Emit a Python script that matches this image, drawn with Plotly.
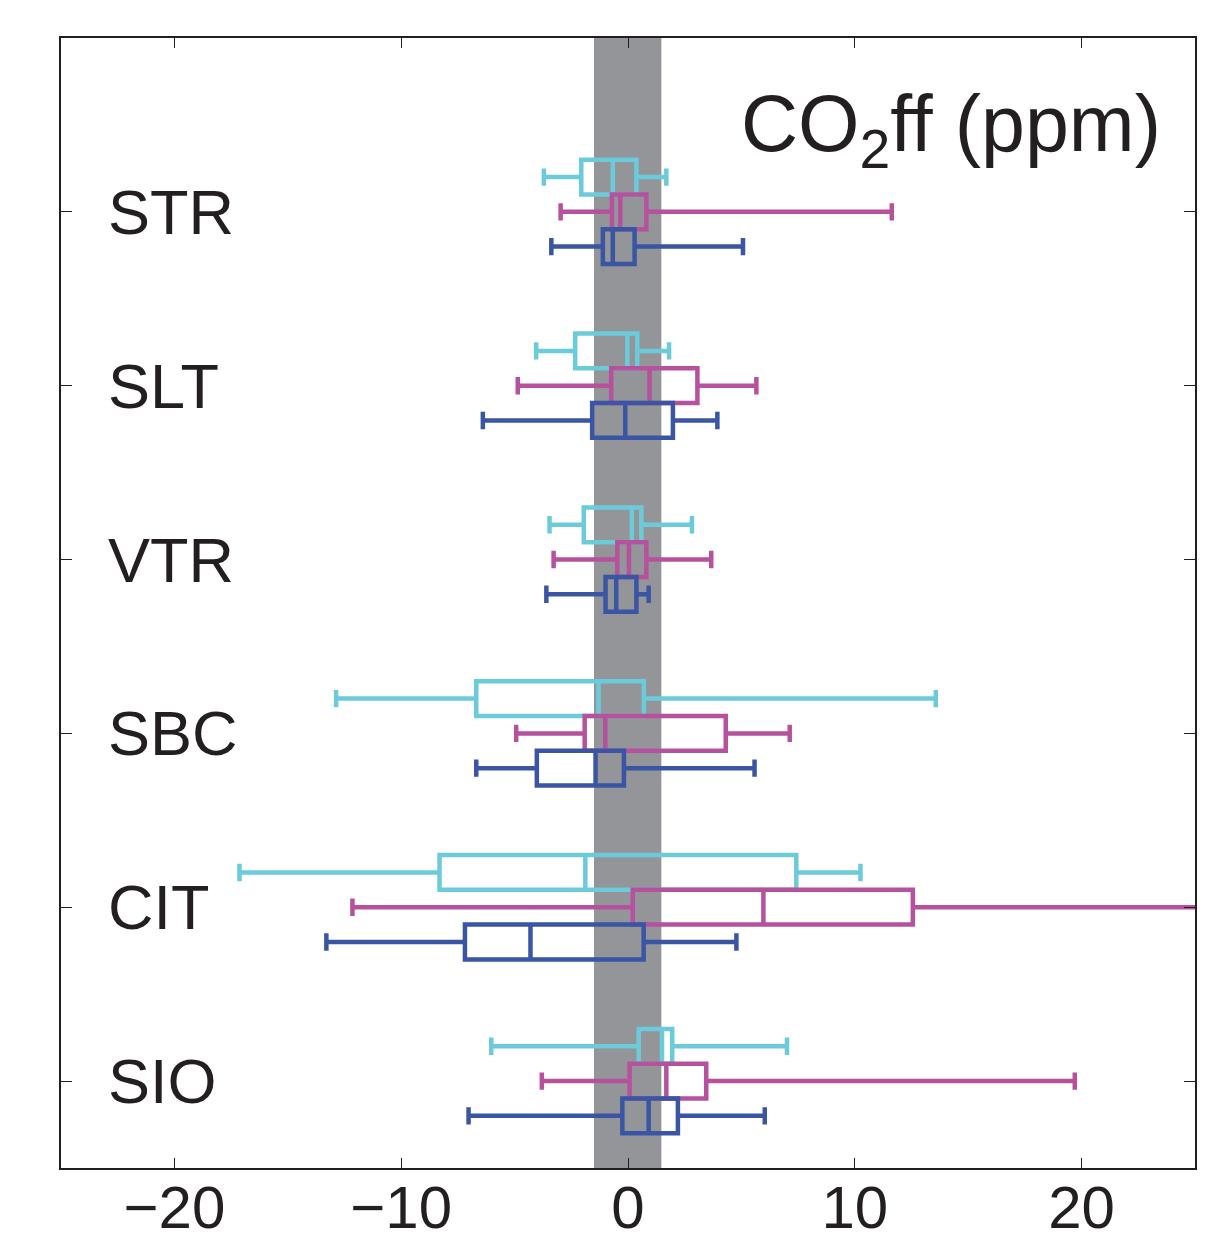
import plotly.graph_objects as go

# ---- data ----
categories = ["STR", "SLT", "VTR", "SBC", "CIT", "SIO"]
cat_pos = [6, 5, 4, 3, 2, 1]

# cyan series (upper box in each group)
cyan_lf = [-3.71, -4.05, -3.46, -12.87, -17.13, -6.03]
cyan_q1 = [-2.06, -2.33, -1.95, -6.69, -8.31, 0.47]
cyan_med = [-0.67, -0.03, 0.17, -1.30, -1.88, 1.50]
cyan_q3 = [0.37, 0.41, 0.59, 0.70, 7.42, 1.95]
cyan_uf = [1.69, 1.81, 2.82, 13.57, 10.25, 7.01]

# magenta series (middle box)
mag_lf = [-2.97, -4.86, -3.28, -4.93, -12.15, -3.80]
mag_q1 = [-0.71, -0.74, -0.47, -1.91, 0.21, 0.07]
mag_med = [-0.34, 0.95, 0.04, -1.00, 5.97, 1.69]
mag_q3 = [0.81, 3.06, 0.81, 4.31, 12.56, 3.45]
mag_uf = [11.63, 5.66, 3.67, 7.13, 27.0, 19.70]

# blue series (lower box)
blue_lf = [-3.38, -6.40, -3.60, -6.69, -13.30, -7.03]
blue_q1 = [-1.11, -1.58, -0.99, -4.02, -7.19, -0.25]
blue_med = [-0.67, -0.12, -0.52, -1.43, -4.30, 0.91]
blue_q3 = [0.29, 1.98, 0.37, -0.18, 0.69, 2.20]
blue_uf = [5.07, 3.94, 0.91, 5.58, 4.78, 6.03]

band_lo, band_hi = -1.5, 1.47
x_ticks = [-20, -10, 0, 10, 20]

# ---- styling ----
INK = "#231F20"
FONT = "Liberation Sans, Arial, sans-serif"
series = [
    ("cyan", "#6CCBDB", 0.2, cyan_lf, cyan_q1, cyan_med, cyan_q3, cyan_uf),
    ("magenta", "#B5519D", 0.0, mag_lf, mag_q1, mag_med, mag_q3, mag_uf),
    ("blue", "#3A55A4", -0.2, blue_lf, blue_q1, blue_med, blue_q3, blue_uf),
]

fig = go.Figure()
for name, color, off, lf, q1, med, q3, uf in series:
    fig.add_trace(go.Box(
        name=name,
        orientation="h",
        y=[p + off for p in cat_pos],
        lowerfence=lf, q1=q1, median=med, q3=q3, upperfence=uf,
        width=0.2,
        whiskerwidth=0.5,
        boxpoints=False,
        fillcolor="rgba(0,0,0,0)",
        line=dict(color=color, width=4.5),
        showlegend=False,
        hoverinfo="skip",
    ))

fig.add_shape(type="rect", xref="x", yref="paper",
              x0=band_lo, x1=band_hi, y0=0, y1=1,
              fillcolor="#939598", line=dict(width=0), layer="below")

for name, p in zip(categories, cat_pos):
    fig.add_annotation(x=-23.0, y=p, xref="x", yref="y", text=name,
                       showarrow=False, xanchor="left", yanchor="middle",
                       font=dict(family=FONT, size=63, color=INK))

fig.add_annotation(x=0.972, y=0.873, xref="paper", yref="paper",
                   text="CO<sub>2</sub>ff (ppm)", showarrow=False,
                   xanchor="right", yanchor="bottom",
                   font=dict(family=FONT, size=79, color=INK))

fig.update_layout(
    width=1227, height=1242,
    margin=dict(l=53, r=40, t=30, b=82),
    paper_bgcolor="white", plot_bgcolor="white",
    xaxis=dict(range=[-25, 25], tickvals=x_ticks, ticks="inside", ticklen=10,
               tickwidth=1.3, tickcolor=INK, showline=True, linecolor=INK,
               linewidth=1.5, mirror="ticks", showgrid=False, zeroline=False,
               automargin=False, ticklabelstandoff=-14,
               tickfont=dict(family=FONT, size=60, color=INK)),
    yaxis=dict(range=[0.5, 7], tickvals=cat_pos, showticklabels=False,
               ticks="inside", ticklen=11, tickwidth=1.3, tickcolor=INK,
               showline=True, linecolor=INK, linewidth=1.5, mirror="ticks",
               showgrid=False, zeroline=False, automargin=False),
)

fig.write_html("out.html")
